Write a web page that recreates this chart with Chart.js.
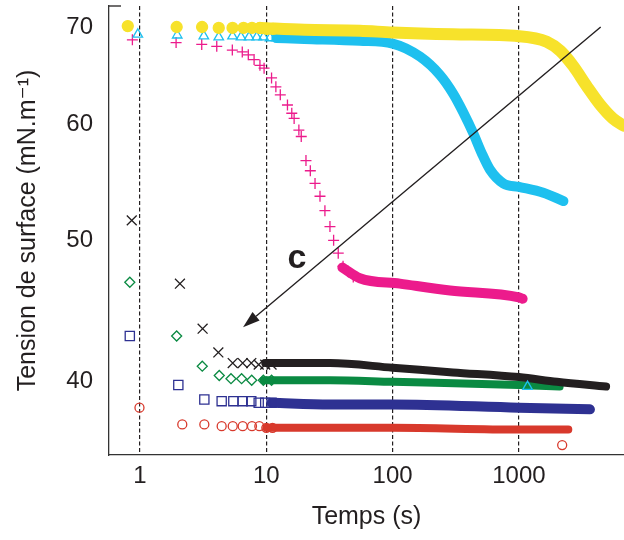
<!DOCTYPE html>
<html>
<head>
<meta charset="utf-8">
<script src="https://cdn.jsdelivr.net/npm/chart.js@4.4.1/dist/chart.umd.min.js"></script>
<style>
body{margin:0;background:#fff}
</style>
</head>
<body>
<canvas id="tension" width="624" height="540"></canvas>
<script>
// ===== DATA (temps en s, tension en mN/m) =====
let xTicks=[1,10,100,1000]
let yTicks=[40,50,60,70]

// separate markers (early points) + dense band (many overlapping markers)
let yellowT=[0.8,1.95,3.1,4.2,5.4,6.6,7.7,8.9,10.1,11.3]
let yellowV=[70.1,70.0,70.0,69.9,69.9,69.9,69.9,69.9,69.8,69.8]
let yellowBandT=[8.9,20,55,100,300,1000,1660,2130,2700,3430,4350,5550,6790]
let yellowBandV=[69.9,69.7,69.6,69.4,69.2,69.0,68.4,67.4,65.8,63.8,62.0,60.6,59.9]

let cyanT=[0.96,1.97,3.2,4.2,5.4,6.3,7.3,8.4,9.5,10.7,12,13.4,1170]
let cyanV=[69.2,69.1,69.0,68.9,69.0,68.9,68.9,68.9,68.9,68.8,68.8,68.8,39.7]
let cyanBandT=[12,20,55,100,165,237,302,362,435,506,590,753,1000,1560,2250]
let cyanBandV=[68.8,68.7,68.5,68.2,66.8,64.9,63.0,61.2,59.2,57.4,55.9,54.7,54.4,53.9,53.2]

let magentaT=[0.87,1.93,3.08,4.05,5.38,6.45,7.2,8.0,8.9,9.6,11.0,11.9,12.9,14.7,15.9,16.6,18.1,18.9,20.6,22.3,24.3,26.6,29.1,31.9,34.1,37.1,40.5,44,48.8]
let magentaV=[68.6,68.3,68.1,67.9,67.5,67.3,67.0,66.5,65.9,65.6,64.6,63.7,62.9,61.9,61.1,60.6,59.5,58.9,56.7,55.8,54.7,53.6,52.4,51.1,50.0,49.0,48.0,47.6,47.2]
let magentaBandT=[40,55,114,285,1000,1070]
let magentaBandV=[47.9,47.1,46.7,46.2,45.7,45.6]

let blackT=[0.86,2.07,3.13,4.17,5.42,6.5,7.6,8.7,9.8,11]
let blackV=[51.6,46.7,43.5,41.9,41.2,41.2,41.2,41.1,41.1,41.1]
let blackBandT=[9.8,32,100,300,1000,2000,4900]
let blackBandV=[41.2,41.2,40.9,40.6,40.3,40.0,39.7]

let greenT=[0.83,1.95,3.11,4.24,5.25,6.37,7.66,9.47,11]
let greenV=[46.8,43.0,41.0,40.4,40.2,40.2,40.1,40.1,40.1]
let greenBandT=[9.5,32,100,1000,2100]
let greenBandV=[40.1,40.1,40.0,39.8,39.7]

let blueT=[0.83,2.01,3.23,4.43,5.48,6.5,7.6,8.7,9.8,11]
let blueV=[43.0,39.8,38.9,38.8,38.8,38.8,38.8,38.7,38.7,38.7]
let blueBandT=[11,32,100,1000,3650]
let blueBandV=[38.7,38.6,38.6,38.4,38.3]

let redT=[0.99,2.16,3.23,4.43,5.42,6.5,7.7,8.8,10,11.2,2200]
let redV=[38.4,37.4,37.4,37.3,37.3,37.3,37.3,37.3,37.2,37.2,36.2]
let redBandT=[10,32,100,1000,2460]
let redBandV=[37.2,37.2,37.2,37.1,37.1]

// arrow "c" (data coordinates)
let arrowFrom=[4440,70.0]
let arrowTo=[6.54,43.6]
let labelC=[17.5,47.9]

// ===== CHART =====
function pts(t,v){ return t.map((x,i)=>({x:x,y:v[i]})) }

function markers(t,v,color,style,r,filled){
    return {
        data:pts(t,v), showLine:false,
        pointStyle:style, pointRadius:r,
        pointBorderColor:color, pointBorderWidth:1.3,
        pointBackgroundColor:filled?color:'rgba(0,0,0,0)'
    }
}

function band(t,v,color,w){
    return {
        data:pts(t,v), showLine:true, pointRadius:0,
        borderColor:color, borderWidth:w, borderCapStyle:'round',
        cubicInterpolationMode:'monotone', fill:false
    }
}

const YELLOW='#f7e22b', CYAN='#1ec0ef', MAGENTA='#ec1b8c', BLACK='#231f20',
      GREEN='#0a8a42', BLUE='#2e3192', RED='#d8392c'

const arrowPlugin={
    id:'arrow',
    afterDatasetsDraw(chart){
        let {ctx,scales:{x,y},chartArea}=chart
        let x1=x.getPixelForValue(arrowFrom[0]), y1=y.getPixelForValue(arrowFrom[1])
        let x2=x.getPixelForValue(arrowTo[0]), y2=y.getPixelForValue(arrowTo[1])
        let a=Math.atan2(y2-y1,x2-x1), hl=17, hw=5.5
        let bx=x2-hl*Math.cos(a), by=y2-hl*Math.sin(a)
        ctx.save()
        ctx.strokeStyle=BLACK; ctx.fillStyle=BLACK; ctx.lineWidth=1.4
        ctx.beginPath(); ctx.moveTo(x1,y1); ctx.lineTo(bx,by); ctx.stroke()
        ctx.beginPath(); ctx.moveTo(x2,y2)
        ctx.lineTo(bx+hw*Math.sin(a),by-hw*Math.cos(a))
        ctx.lineTo(bx-hw*Math.sin(a),by+hw*Math.cos(a))
        ctx.closePath(); ctx.fill()
        ctx.font='bold 34px "Liberation Sans", Arial, sans-serif'
        ctx.textAlign='center'; ctx.textBaseline='alphabetic'
        ctx.fillText('c',x.getPixelForValue(labelC[0]),y.getPixelForValue(labelC[1]))
        // small stub of the top frame
        ctx.lineWidth=1.3
        ctx.beginPath(); ctx.moveTo(chartArea.left,chartArea.top); ctx.lineTo(chartArea.left+12,chartArea.top); ctx.stroke()
        ctx.restore()
    }
}

Chart.defaults.font.family='"Liberation Sans", Arial, "DejaVu Sans", sans-serif'
Chart.defaults.color='#231f20'

new Chart(document.getElementById('tension'),{
    type:'scatter',
    data:{datasets:[
        markers(yellowT,yellowV,YELLOW,'circle',5.5,true),
        band(yellowBandT,yellowBandV,YELLOW,12),
        markers(cyanT,cyanV,CYAN,'triangle',5.5,false),
        band(cyanBandT,cyanBandV,CYAN,10),
        markers(magentaT,magentaV,MAGENTA,'cross',5.5,false),
        band(magentaBandT,magentaBandV,MAGENTA,10),
        markers(blackT,blackV,BLACK,'crossRot',7,false),
        band(blackBandT,blackBandV,BLACK,8),
        markers(greenT,greenV,GREEN,'rectRot',5,false),
        band(greenBandT,greenBandV,GREEN,8),
        markers(blueT,blueV,BLUE,'rect',6.5,false),
        band(blueBandT,blueBandV,BLUE,10),
        markers(redT,redV,RED,'circle',4.5,false),
        band(redBandT,redBandV,RED,8)
    ]},
    options:{
        responsive:false, animation:false, events:[], devicePixelRatio:1,
        layout:{autoPadding:false, padding:{top:6,right:0,left:0,bottom:0}},
        plugins:{legend:{display:false},tooltip:{enabled:false}},
        scales:{
            x:{
                type:'logarithmic', min:0.568, max:6790,
                afterBuildTicks:s=>{ s.ticks=xTicks.map(v=>({value:v})) },
                afterFit:s=>{ s.height=85; s.paddingLeft=0; s.paddingRight=0 },
                ticks:{callback:v=>String(v), font:{size:24}, padding:7, maxRotation:0, autoSkip:false},
                grid:{color:BLACK, lineWidth:1.2, drawTicks:false},
                border:{display:true, color:'#333', width:1.3, dash:[4,2.5]},
                title:{display:true, text:'Temps (s)', font:{size:25}, padding:{top:0,bottom:8}}
            },
            y:{
                type:'logarithmic', min:35.64, max:72.36,
                afterBuildTicks:s=>{ s.ticks=yTicks.map(v=>({value:v})) },
                afterFit:s=>{ s.width=109; s.paddingTop=0; s.paddingBottom=0 },
                ticks:{callback:v=>String(v), font:{size:24}, padding:16, autoSkip:false},
                grid:{display:false, drawTicks:false},
                border:{display:true, color:'#333', width:1.3},
                title:{display:true, text:'Tension de surface (mN.m\u207B\u00B9)', font:{size:25}, padding:{top:13,bottom:0}}
            }
        }
    },
    plugins:[arrowPlugin]
})
</script>
</body>
</html>
